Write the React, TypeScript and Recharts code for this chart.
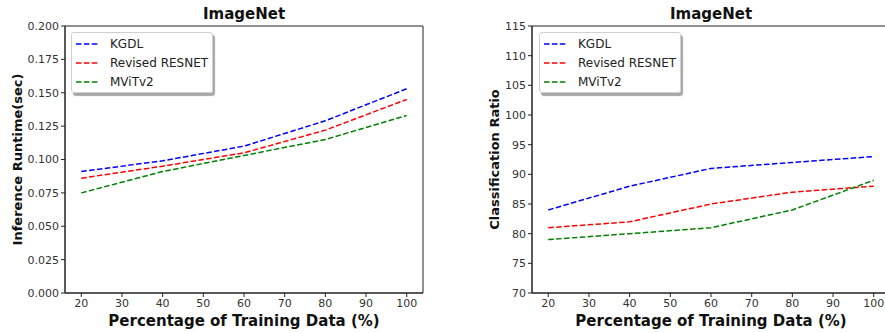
import {Line, LineChart, ReferenceArea, XAxis, YAxis} from "recharts";

const trainingPct = [20, 40, 60, 80, 100];
const xTicks = [20, 30, 40, 50, 60, 70, 80, 90, 100];

const runtimeKgdl = [0.091, 0.099, 0.110, 0.129, 0.153];
const runtimeResnet = [0.086, 0.095, 0.105, 0.122, 0.145];
const runtimeMvit = [0.075, 0.091, 0.103, 0.115, 0.133];
const runtimeTicks = [0, 0.025, 0.05, 0.075, 0.1, 0.125, 0.15, 0.175, 0.2];

const ratioKgdl = [84, 88, 91, 92, 93];
const ratioResnet = [81, 82, 85, 87, 88];
const ratioMvit = [79, 80, 81, 84, 89];
const ratioTicks = [70, 75, 80, 85, 90, 95, 100, 105, 110, 115];

const seriesNames = ["KGDL", "Revised RESNET", "MViTv2"];
const seriesColors = ["#0000ff", "#ff0000", "#008000"];

const FONT = "'DejaVu Sans', sans-serif";
const AXIS = "#222";
const DASH = "5.5 2.4";
const X_DOMAIN: [number, number] = [16, 104];

const runtimeData = trainingPct.map((pct, i) => ({
    pct,
    kgdl: runtimeKgdl[i],
    resnet: runtimeResnet[i],
    mvit: runtimeMvit[i]
}));

const ratioData = trainingPct.map((pct, i) => ({
    pct,
    kgdl: ratioKgdl[i],
    resnet: ratioResnet[i],
    mvit: ratioMvit[i]
}));

const tickStyle = {fontSize: 11, fill: "#333", fontFamily: FONT};

const LegendBox = ({left}: {left: number}) => (
    <div style={{
        position: "absolute",
        left,
        top: 32,
        width: 142,
        height: 61,
        border: "1px solid #d0d0d0",
        borderRadius: 3,
        background: "rgba(255,255,255,0.9)",
        boxShadow: "2px 3px 1px rgba(0,0,0,0.35)",
        fontFamily: FONT,
        fontSize: 12,
        color: "#222",
        boxSizing: "border-box",
        paddingTop: 1,
        whiteSpace: "nowrap"
    }}>
        {seriesNames.map((name, i) => (
            <div key={name} style={{display: "flex", alignItems: "center", height: 19}}>
                <svg width={38} height={10} style={{flex: "none"}}>
                    <line x1={4} x2={26} y1={5} y2={5} stroke={seriesColors[i]} strokeWidth={1.5}
                          strokeDasharray={DASH}/>
                </svg>
                <span>{name}</span>
            </div>
        ))}
    </div>
);

function xLabel(props: any) {
    const vb = props.viewBox;
    return (
        <text x={vb.x + vb.width / 2} y={326} textAnchor="middle" fontFamily={FONT}
              fontWeight="bold" fontSize={15} fill="#111">
            Percentage of Training Data (%)
        </text>
    );
}

function yLabel(text: string, x: number) {
    return (props: any) => {
        const vb = props.viewBox;
        const cy = vb.y + vb.height / 2;
        return (
            <text x={x} y={cy} transform={`rotate(-90 ${x} ${cy})`} textAnchor="middle"
                  dominantBaseline="central" fontFamily={FONT} fontWeight="bold" fontSize={13} fill="#111">
                {text}
            </text>
        );
    };
}

interface PanelProps {
    data: typeof runtimeData;
    width: number;
    yWidth: number;
    rightMargin: number;
    yDomain: [number, number];
    yTicks: number[];
    yFormat: (v: number) => string;
    yTitle: string;
    yTitleX: number;
}

const Panel = ({data, width, yWidth, rightMargin, yDomain, yTicks, yFormat, yTitle, yTitleX}: PanelProps) => (
    <LineChart width={width} height={333} data={data}
               margin={{top: 26, right: rightMargin, bottom: 0, left: 0}}>
        <XAxis dataKey="pct" type="number" domain={X_DOMAIN} ticks={xTicks} height={40}
               tick={tickStyle} tickSize={4} stroke={AXIS} interval={0} label={xLabel}/>
        <YAxis type="number" domain={yDomain} ticks={yTicks} width={yWidth} tick={tickStyle}
               tickSize={4} stroke={AXIS} interval={0} tickFormatter={yFormat}
               label={yLabel(yTitle, yTitleX)}/>
        <ReferenceArea x1={X_DOMAIN[0]} x2={X_DOMAIN[1]} y1={yDomain[0]} y2={yDomain[1]}
                       fill="none" stroke={AXIS} strokeWidth={1}/>
        <Line dataKey="kgdl" name="KGDL" type="linear" stroke={seriesColors[0]} strokeWidth={1.5}
              strokeDasharray={DASH} dot={false} isAnimationActive={false}/>
        <Line dataKey="resnet" name="Revised RESNET" type="linear" stroke={seriesColors[1]} strokeWidth={1.5}
              strokeDasharray={DASH} dot={false} isAnimationActive={false}/>
        <Line dataKey="mvit" name="MViTv2" type="linear" stroke={seriesColors[2]} strokeWidth={1.5}
              strokeDasharray={DASH} dot={false} isAnimationActive={false}/>
    </LineChart>
);

const titleStyle = {
    position: "absolute" as const,
    top: 5,
    fontFamily: FONT,
    fontWeight: "bold" as const,
    fontSize: 15,
    color: "#111",
    textAlign: "center" as const
};

export default function App() {
    return (
        <div style={{position: "absolute", top: 0, left: 0, width: 885, height: 333, overflow: "hidden", background: "#fff"}}>
            <div style={{position: "absolute", left: 0, top: 0}}>
                <Panel data={runtimeData} width={440} yWidth={65} rightMargin={17}
                       yDomain={[0, 0.2]} yTicks={runtimeTicks} yFormat={(v) => v.toFixed(3)}
                       yTitle="Inference Runtime(sec)" yTitleX={17}/>
            </div>
            <div style={{position: "absolute", left: 440, top: 0}}>
                <Panel data={ratioData} width={460} yWidth={92} rightMargin={10}
                       yDomain={[70, 115]} yTicks={ratioTicks} yFormat={(v) => String(v)}
                       yTitle="Classification Ratio" yTitleX={54}/>
            </div>
            <LegendBox left={71}/>
            <LegendBox left={539}/>
            <div style={{...titleStyle, left: 65, width: 358}}>ImageNet</div>
            <div style={{...titleStyle, left: 532, width: 358}}>ImageNet</div>
        </div>
    );
}
